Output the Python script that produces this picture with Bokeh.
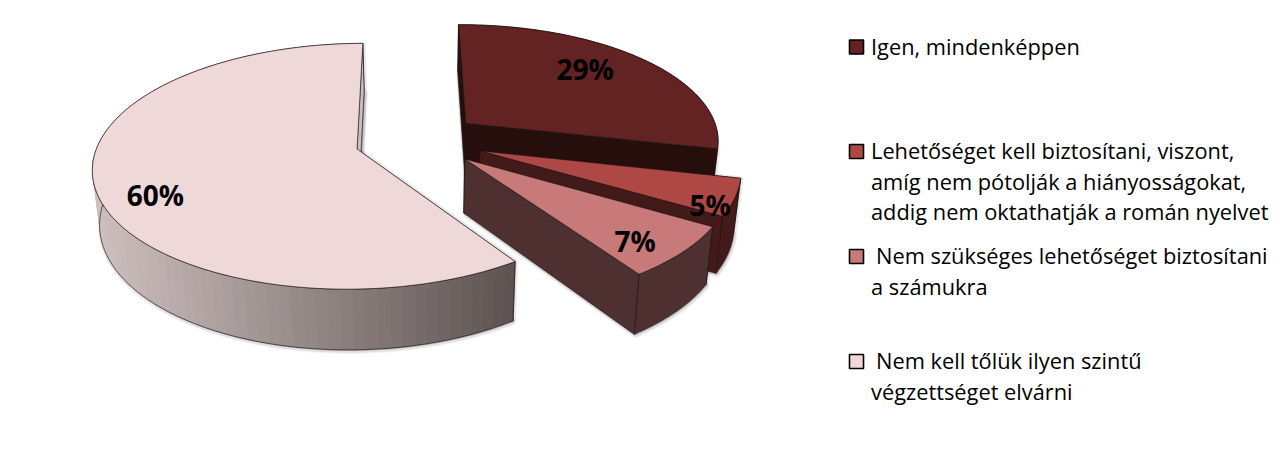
import math
from bokeh.plotting import figure
from bokeh.models import Range1d
from bokeh.core.properties import value
from bokeh.embed import file_html
from bokeh.resources import INLINE

# ---- data ----
categories = ["Igen, mindenképpen",
              "Lehetőséget kell biztosítani, viszont,\namíg nem pótolják a hiányosságokat,\naddig nem oktathatják a román nyelvet",
              " Nem szükséges lehetőséget biztosítani\na számukra",
              " Nem kell tőlük ilyen szintű\nvégzettséget elvárni"]
values = [29, 5, 7, 60]
labels = ["29%", "5%", "7%", "60%"]

# ---- style ----
top_colors = ["#622322", "#ae4845", "#c77a79", "#eed9d8"]
rim_colors = ["#2c1110", "#431a1a", "#4f3031", None]
end_colors = ["#260e0d", "#431a1a", "#4f3031", "#cdbcbc"]
grad_left, grad_right = (0xcf, 0xc0, 0xc0), (0x5c, 0x53, 0x51)

# ---- projection of the tilted pie onto the page ----
X0, Y0 = 420.0, 139.5
A, B, K = 258.0, 118.0, 0.138
EXPLODE = [0.23, 0.245, 0.23, 0.255]
RADIUS = [0.985, 0.985, 1.0, 1.0]
DEPTH, SHRINK, DEPTH_POW = 53.0, 0.978, 0.85
START = -0.5
LABEL_R = [0.724, 0.919, 0.837, 0.807]
LABEL_DA = [-5.7, 5.7, 3.3, -9.0]
LEG_X, LEG_TX, LEG_SW = 856, 870.5, 15
LEG_Y = [46.5, 151, 256, 361]
LEG_TEXT_DY = -1.0
LEG_LH = 30.7
LEG_FONT = "Open Sans"
LEG_SIZE = "21.8px"

def top(u, v):
    s = 1 / (1 + K * v)
    return X0 + A * u * s, Y0 - B * v * s

def bottom(u, v):
    s = 1 / (1 + K * v)
    x, y = top(u, v)
    return X0 + (x - X0) * SHRINK, y + DEPTH * s ** DEPTH_POW

def polar(th, r=1.0):
    t = math.radians(th)
    return r * math.sin(t), r * math.cos(t)

p = figure(width=1270, height=434, output_backend="svg", toolbar_location=None,
           x_range=Range1d(0, 1270), y_range=Range1d(434, 0),
           x_axis_type=None, y_axis_type=None, min_border=0, outline_line_color=None)
p.grid.visible = False

total = sum(values)
sweeps = [x / total * 360 for x in values]
starts = [START + sum(sweeps[:i]) for i in range(len(values))]

def poly(xy, fill, line="#1a1010", alpha=0.75, width=0.8):
    p.patch([a for a, _ in xy], [b for _, b in xy], fill_color=fill,
            line_color=line, line_alpha=alpha, line_width=width)

order = [3, 0, 1, 2]
N = 90

geo = {}
for i in order:
    t1, sw = starts[i], sweeps[i]
    mid = t1 + sw / 2
    ox, oy = polar(mid, EXPLODE[i])
    arc = [(ox + polar(t1 + sw * j / N, RADIUS[i])[0], oy + polar(t1 + sw * j / N, RADIUS[i])[1]) for j in range(N + 1)]
    geo[i] = (t1, sw, mid, ox, oy, arc)

# soft shadows
for i in order:
    t1, sw, mid, ox, oy, arc = geo[i]
    outline = [bottom(u, v) for u, v in arc] + [bottom(ox, oy)]
    for w, al in ((6, 0.05), (3.5, 0.08)):
        p.patch([a + 1 for a, _ in outline], [b + 1 for _, b in outline], fill_color="#000000",
                fill_alpha=0.1, line_color="#000000", line_alpha=al, line_width=w)
    end_wall = [top(*arc[-1]), bottom(*arc[-1]), bottom(ox, oy), top(ox, oy)]
    start_wall = [top(*arc[0]), bottom(*arc[0]), bottom(ox, oy), top(ox, oy)]
    for wall in (end_wall, start_wall):
        p.patch([a + 1 for a, _ in wall], [b for _, b in wall], fill_color="#000000",
                fill_alpha=0.12, line_color="#000000", line_alpha=0.08, line_width=4)

for i in order:
    t1, sw, mid, ox, oy, arc = geo[i]
    poly([top(ox, oy), top(*arc[0]), bottom(*arc[0]), bottom(ox, oy)], end_colors[i])
    tops = [top(u, v) for u, v in arc]
    bots = [bottom(u, v) for u, v in arc]
    if rim_colors[i] is not None:
        poly(tops + bots[::-1], rim_colors[i])
    else:
        x_lo, x_hi = min(a for a, _ in tops), max(a for a, _ in tops)
        for j in range(N):
            f = ((tops[j][0] + tops[j + 1][0]) / 2 - x_lo) / (x_hi - x_lo)
            c = tuple(int(round(grad_left[k] + (grad_right[k] - grad_left[k]) * f)) for k in range(3))
            jn = min(j + 3, N)
            strip = [tops[j], tops[jn], bots[jn], bots[j]]
            p.patch([a for a, _ in strip], [b for _, b in strip], fill_color="#%02x%02x%02x" % c, line_color=None)
        poly(tops + bots[::-1], None, alpha=0.8)
    poly([top(ox, oy), top(*arc[-1]), bottom(*arc[-1]), bottom(ox, oy)], end_colors[i])
    poly([top(ox, oy)] + tops, top_colors[i])

# percentage labels
lx, ly = [], []
for i in range(len(values)):
    t1, sw, mid, ox, oy, arc = geo[i]
    u, v = polar(mid + LABEL_DA[i], LABEL_R[i])
    x, y = top(ox + u, oy + v)
    lx.append(x); ly.append(y)
p.text(lx, ly, text=labels, text_font=value("Open Sans"), text_font_style="bold",
       text_font_size="28px", text_color="#000000", text_align="center", text_baseline="middle")

# legend
p.rect(x=[LEG_X] * 4, y=LEG_Y, width=LEG_SW - 1, height=LEG_SW - 1, fill_color=top_colors,
       line_color="#000000", line_width=1.6)
tx, ty, tt = [], [], []
for yy, c in zip(LEG_Y, categories):
    for n, line in enumerate(c.split("\n")):
        tx.append(LEG_TX + (5 if line.startswith(" ") else 0))
        ty.append(yy + LEG_TEXT_DY + n * LEG_LH)
        tt.append(line.strip())
p.text(tx, ty, text=tt, text_font=value(LEG_FONT), text_font_size=LEG_SIZE, text_color="#000000",
       text_align="left", text_baseline="middle")

open("out.html", "w").write(file_html(p, INLINE))
